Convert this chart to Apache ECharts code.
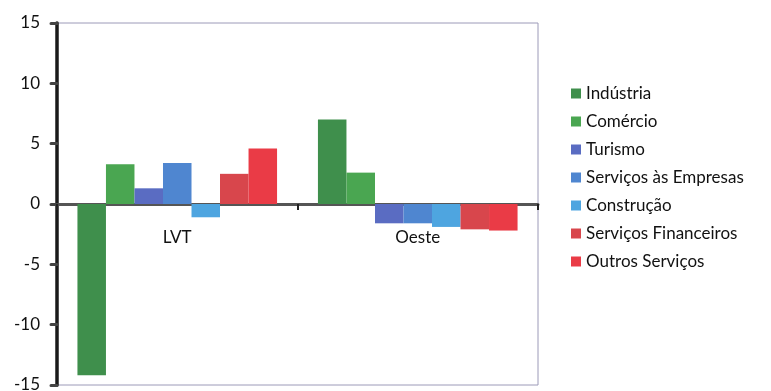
<!DOCTYPE html>
<html><head><meta charset="utf-8">
<script src="https://cdn.jsdelivr.net/npm/echarts@6/dist/echarts.min.js"></script>
<style>html,body{margin:0;padding:0;background:#fff}#c{width:771px;height:391px}</style>
</head><body><div id="c"></div>
<script>
const categories = ['LVT', 'Oeste'];
const seriesNames = ['Indústria', 'Comércio', 'Turismo', 'Serviços às Empresas', 'Construção', 'Serviços Financeiros', 'Outros Serviços'];
const industria = [-14.2, 7.0];
const comercio = [3.3, 2.6];
const turismo = [1.3, -1.6];
const servicosEmpresas = [3.4, -1.6];
const construcao = [-1.1, -1.9];
const servicosFinanceiros = [2.5, -2.1];
const outrosServicos = [4.6, -2.2];
const yTicks = [-15, -10, -5, 0, 5, 10, 15];

const values = [industria, comercio, turismo, servicosEmpresas, construcao, servicosFinanceiros, outrosServicos];
const colors = ['#3f8f4c', '#4aa651', '#5a6cc2', '#4f86d0', '#4ea5e0', '#d8464c', '#ea3b46'];
const font = 'Lato, "Open Sans", sans-serif';

const chart = echarts.init(document.getElementById('c'), null, {renderer: 'canvas'});
chart.setOption({
  animation: false,
  backgroundColor: '#fff',
  textStyle: {fontFamily: font},
  legend: {
    orient: 'vertical',
    left: 566,
    top: 80,
    itemWidth: 10,
    itemHeight: 10,
    itemGap: 11,
    icon: 'rect',
    textStyle: {fontSize: 17, color: '#111', fontFamily: font},
    data: seriesNames
  },
  grid: {
    left: 57, right: 233, top: 23, bottom: 6,
    outerBoundsMode: 'none',
    containLabel: false,
    show: true, borderColor: '#9c9ab8', borderWidth: 1, backgroundColor: 'transparent'
  },
  xAxis: [{
    type: 'category',
    data: categories,
    axisLine: {onZero: true, lineStyle: {color: '#555', width: 3}},
    axisTick: {show: true, length: 6, lineStyle: {color: '#222', width: 2}},
    axisLabel: {show: false},
    splitLine: {show: false}
  }, {
    type: 'category',
    data: categories,
    position: 'bottom',
    offset: -181,
    axisLine: {show: false, onZero: false},
    axisTick: {show: false},
    axisLabel: {fontSize: 17, color: '#111', margin: 25, fontFamily: font},
    splitLine: {show: false}
  }],
  yAxis: {
    type: 'value',
    min: -15, max: 15, interval: 5,
    axisLine: {show: true, lineStyle: {color: '#1a1a1a', width: 3.5}},
    axisTick: {show: true, length: 6, lineStyle: {color: '#444', width: 3, cap: 'round'}},
    axisLabel: {fontSize: 17, color: '#111', margin: 17, fontFamily: font,
      formatter: v => yTicks.includes(v) ? String(v) : ''},
    splitLine: {show: false}
  },
  series: seriesNames.map((name, i) => ({
    name,
    type: 'bar',
    xAxisIndex: 0,
    data: values[i],
    barGap: '0%',
    barCategoryGap: '17%',
    itemStyle: {color: colors[i]}
  }))
});
</script></body></html>
